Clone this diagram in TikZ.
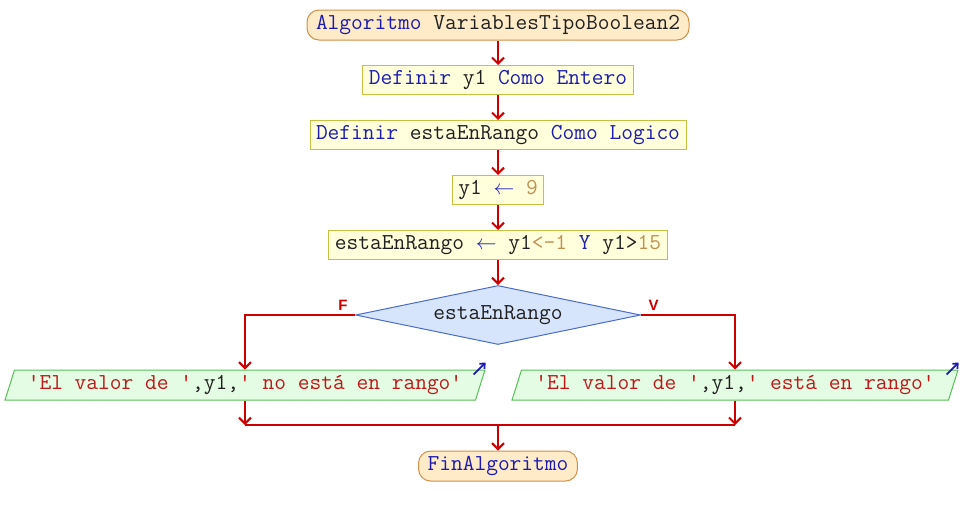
\documentclass[tikz,border=0pt]{standalone}
\usepackage{fontspec}
\newfontfamily\lblfont{Liberation Sans}
\usetikzlibrary{arrows.meta,positioning,shapes.geometric}
\definecolor{kwc}{HTML}{1C1CB0}
\definecolor{idc}{HTML}{202020}
\definecolor{numc}{HTML}{C09050}
\definecolor{strc}{HTML}{C01818}
\definecolor{flowc}{HTML}{CC0000}
\definecolor{termd}{HTML}{D09048}
\definecolor{termf}{HTML}{FFEBC8}
\definecolor{procd}{HTML}{C8C040}
\definecolor{procf}{HTML}{FFFFDC}
\definecolor{decd}{HTML}{4A6CC8}
\definecolor{decf}{HTML}{D6E4FC}
\definecolor{outd}{HTML}{58C058}
\definecolor{outf}{HTML}{E4FCE4}
\newcommand\kw[1]{\textcolor{kwc}{#1}}
\newcommand\nm[1]{\textcolor{numc}{#1}}
\newcommand\st[1]{\textcolor{strc}{#1}}
\begin{document}
\begin{tikzpicture}[x=1pt, y=-1pt,
  every node/.style={font=\ttfamily\fontsize{22.8}{26}\selectfont, text=idc, line width=1pt},
  terminal/.style={draw=termd, fill=termf, rounded corners=12pt, minimum height=30pt, inner xsep=9pt},
  process/.style={draw=procd, fill=procf, minimum height=29pt, inner xsep=6pt},
  decision/.style={diamond, draw=decd, fill=decf, aspect=4.8, minimum width=285pt, minimum height=59pt, inner sep=0pt},
  output/.style={trapezium, trapezium left angle=70, trapezium right angle=110, trapezium stretches body, draw=outd, fill=outf, minimum height=30pt},
  flow/.style={draw=flowc, line width=2pt, -{Straight Barb[length=6pt,width=12pt]}},
  line/.style={draw=flowc, line width=2pt},
  lbl/.style={font=\lblfont\bfseries\fontsize{15}{15}\selectfont, text=flowc, inner sep=0pt}]
  \useasboundingbox (0,0) rectangle (960,515);
  \node[terminal] (ini) at (498,25) {\kw{Algoritmo} VariablesTipoBoolean2};
  \node[process] (d1) at (498,80) {\kw{Definir} y1 \kw{Como Entero}};
  \node[process] (d2) at (498,135) {\kw{Definir} estaEnRango \kw{Como Logico}};
  \node[process] (a1) at (498,190) {y1 \kw{$\leftarrow$} \nm{9}};
  \node[process] (a2) at (498,245) {estaEnRango \kw{$\leftarrow$} y1\nm{<-1} \kw{Y} y1>\nm{15}};
  \node[decision] (cond) at (498,315) {estaEnRango};
  \node[output, minimum width=480pt] (outF) at (245,385) {\st{'El valor de '},y1,\st{' no está en rango'}};
  \node[output, minimum width=446pt] (outV) at (735,385) {\st{'El valor de '},y1,\st{' está en rango'}};
  \node[terminal] (fin) at (498,466) {\kw{FinAlgoritmo}};
  \coordinate (join) at (498,425);
  \node[lbl, above left=4pt and 7pt of cond.west] (lblF) {F};
  \node[lbl, above right=4pt and 7pt of cond.east] (lblV) {V};
  \foreach \a/\b in {ini/d1, d1/d2, d2/a1, a1/a2, a2/cond}
    \draw[flow] (\a) -- (\b);
  \draw[flow] (cond.west) -| (outF);
  \draw[flow] (cond.east) -| (outV);
  \foreach \o in {outF, outV}
    \draw[flow] (\o) -- (\o |- join);
  \draw[line] (outF |- join) -- (outV |- join);
  \draw[flow] (join) -- (fin);
  % small output marks
  \foreach \o in {outF, outV}
    \draw[draw=kwc, line width=1.8pt, -{Straight Barb[length=4pt,width=7pt]}] ([shift={(-12,5)}]\o.top right corner) -- ([shift={(0,-7)}]\o.top right corner);
\end{tikzpicture}
\end{document}
